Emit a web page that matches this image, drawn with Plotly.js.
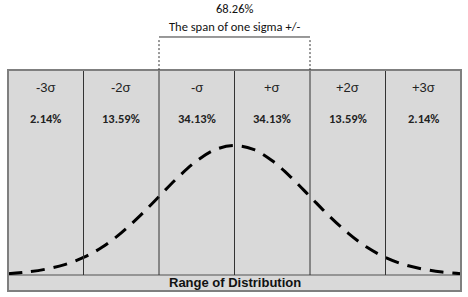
<!DOCTYPE html>
<html><head><meta charset="utf-8">
<script src="https://cdn.plot.ly/plotly-3.0.1.min.js"></script>
<style>html,body{margin:0;padding:0;background:#fff}#c{width:468px;height:297px}</style>
</head><body><div id="c"></div>
<script>
// Sigma bands (column labels and their shares)
const bandLabels = ['-3σ','-2σ','-σ','+σ','+2σ','+3σ'];
const bandPercents = ['2.14%','13.59%','34.13%','34.13%','13.59%','2.14%'];
const bandCenters = [-2.5,-1.5,-0.5,0.5,1.5,2.5];
const bandEdges = [-2,-1,0,1,2];
// Bell curve (x in sigma, y as density)
const curveX = [-3,-2.75,-2.5,-2.25,-2,-1.75,-1.5,-1.25,-1,-0.75,-0.5,-0.25,0,0.25,0.5,0.75,1,1.25,1.5,1.75,2,2.25,2.5,2.75,3];
const curveY = [0.004,0.009,0.018,0.032,0.054,0.086,0.130,0.183,0.242,0.301,0.352,0.387,0.399,0.387,0.352,0.301,0.242,0.183,0.130,0.086,0.054,0.032,0.018,0.009,0.004];
const spanValue = '68.26%';
const spanText = 'The span of one sigma +/-';
const axisTitle = 'Range of Distribution';

const txtFont = 'Carlito, "Open Sans", "Liberation Sans", sans-serif';
const shapes = [];
bandEdges.forEach(e => shapes.push({type:'line', xref:'x', yref:'paper', x0:e, x1:e, y0:0, y1:1, line:{color:'#333', width:1}}));
// outer frame
shapes.push({type:'rect', xref:'paper', yref:'paper', x0:0, x1:1, y0:-0.078, y1:1, line:{color:'#7f7f7f', width:2}, fillcolor:'rgba(0,0,0,0)'});
shapes.push({type:'rect', xref:'paper', yref:'paper', x0:0, x1:1, y0:-0.078, y1:0, line:{color:'#7f7f7f', width:1.5}, fillcolor:'#d9d9d9', layer:'below'});
// bracket
shapes.push({type:'line', xref:'x', yref:'paper', x0:-1, x1:1, y0:1.161, y1:1.161, line:{color:'#333', width:1}});
[-1,1].forEach(e => shapes.push({type:'line', xref:'x', yref:'paper', x0:e, x1:e, y0:1.146, y1:1.0, line:{color:'#333', width:1, dash:'2px,2px'}}));

const annotations = [];
bandLabels.forEach((l,i) => annotations.push({x:bandCenters[i], xref:'x', yref:'paper', y:(275-87)/205, text:l, showarrow:false, font:{family:'"Liberation Sans", Arial, sans-serif', size:13, color:'#222'}, yanchor:'middle'}));
bandPercents.forEach((p,i) => annotations.push({x:bandCenters[i], xref:'x', yref:'paper', y:(275-118)/205, text:'<b>'+p+'</b>', showarrow:false, font:{family:txtFont, size:12.5, color:'#222'}, yanchor:'middle'}));
annotations.push({x:0, xref:'x', yref:'paper', y:(275-9)/205, text:spanValue, showarrow:false, font:{family:txtFont, size:12.5, color:'#111'}, yanchor:'middle'});
annotations.push({x:0, xref:'x', yref:'paper', y:(275-26)/205, text:spanText, showarrow:false, font:{family:txtFont, size:12.5, color:'#111'}, yanchor:'middle'});
annotations.push({x:0.5, xref:'paper', yref:'paper', y:-0.039, text:'<b>'+axisTitle+'</b>', showarrow:false, font:{family:'"Liberation Sans", Arial, sans-serif', size:13, color:'#111'}, yanchor:'middle'});

Plotly.newPlot('c', [{
  x: curveX, y: curveY, type:'scatter', mode:'lines',
  line:{color:'#000', width:3, dash:'14px,9px', shape:'spline'}, hoverinfo:'skip'
}], {
  width:468, height:297,
  margin:{l:8, r:7, t:70, b:22},
  paper_bgcolor:'#fff', plot_bgcolor:'#d9d9d9',
  showlegend:false,
  xaxis:{range:[-3,3], showgrid:false, zeroline:false, showticklabels:false, ticks:'', showline:false, fixedrange:true},
  yaxis:{range:[0,0.632], showgrid:false, zeroline:false, showticklabels:false, ticks:'', showline:false, fixedrange:true},
  shapes, annotations
}, {staticPlot:true, displayModeBar:false});
</script></body></html>
